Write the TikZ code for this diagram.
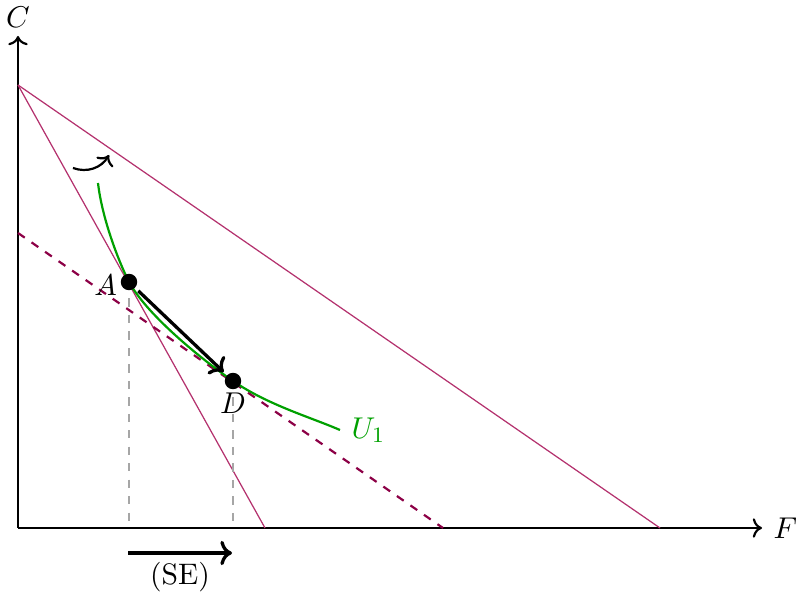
\documentclass[tikz,border=0pt]{standalone}
\usetikzlibrary{arrows.meta}
\definecolor{bl}{RGB}{180,50,110}
\definecolor{bldash}{RGB}{140,0,70}
\definecolor{ugreen}{RGB}{0,160,0}
\tikzset{
  axis/.style={thick,->},
  budget/.style={bl,line width=0.45pt},
  budgetdash/.style={bldash,dashed,thick},
  drop/.style={gray!70,dashed,line width=0.4pt},
  dot/.style={circle,fill=black,inner sep=0pt,minimum size=6pt},
  bigarrow/.style={very thick,->},
  every node/.style={font=\fontsize{10.8}{13}\selectfont},
}
\begin{document}
\begin{tikzpicture}[x=0.0128cm,y=0.0128cm]
\useasboundingbox (-18,-72) rectangle (779,528);
% axes
\coordinate (O) at (0,0);
\coordinate (Ytip) at (0,492);
\coordinate (Xtip) at (744,0);
\draw[axis] (O) -- (Ytip);
\draw[axis] (O) -- (Xtip);
\node[anchor=south,inner sep=3pt] (lC) at (Ytip) {$C$};
\node[anchor=west,inner sep=4pt] (lF) at (Xtip) {$F$};
% budget lines
\coordinate (Y0) at (0,443);
\coordinate (X1) at (642,0);
\coordinate (X2) at (247,0);
\coordinate (Yd) at (0,295);
\coordinate (Xd) at (425,0);
\draw[budget] (Y0) -- (X1);
\draw[budget] (Y0) -- (X2);
\draw[budgetdash] (Yd) -- (Xd);
% points
\coordinate (A) at (111,246);
\coordinate (D) at (215,147);
\coordinate (Ab) at (111,0);
\coordinate (Db) at (215,0);
\draw[drop] (A) -- (Ab);
\draw[drop] (D) -- (Db);
% indifference curve
\coordinate (Ustart) at (80,345);
\coordinate (Uend) at (322,98);
\draw[ugreen,thick] (Ustart) .. controls (84,310) and (100,268) .. (A)
  .. controls (131,210) and (190,164) .. (D)
  .. controls (250,123) and (292,111) .. (Uend);
\node[ugreen,anchor=west,inner sep=4pt] (lU) at (Uend) {$U_1$};
\node[dot] (pA) at (A) {};
\node[dot] (pD) at (D) {};
\node[anchor=east,inner sep=1pt] (lA) at ([yshift=-1pt]pA.west) {$A$};
\node[anchor=north,inner sep=1pt] (lD) at (pD.south) {$D$};
\draw[bigarrow,shorten <=1.5pt,shorten >=1.5pt] (pA) -- (pD);
% curved arrow
\coordinate (c1) at (55,360);
\coordinate (c2) at (91,373);
\draw[thick,->] (c1) to[bend right=40] (c2);
% SE arrow
\coordinate (s1) at (110,-25);
\coordinate (s2) at (214,-25);
\draw[bigarrow] (s1) -- (s2);
\node[anchor=north,inner sep=3pt] (lSE) at (162,-25) {(SE)};
\end{tikzpicture}
\end{document}
